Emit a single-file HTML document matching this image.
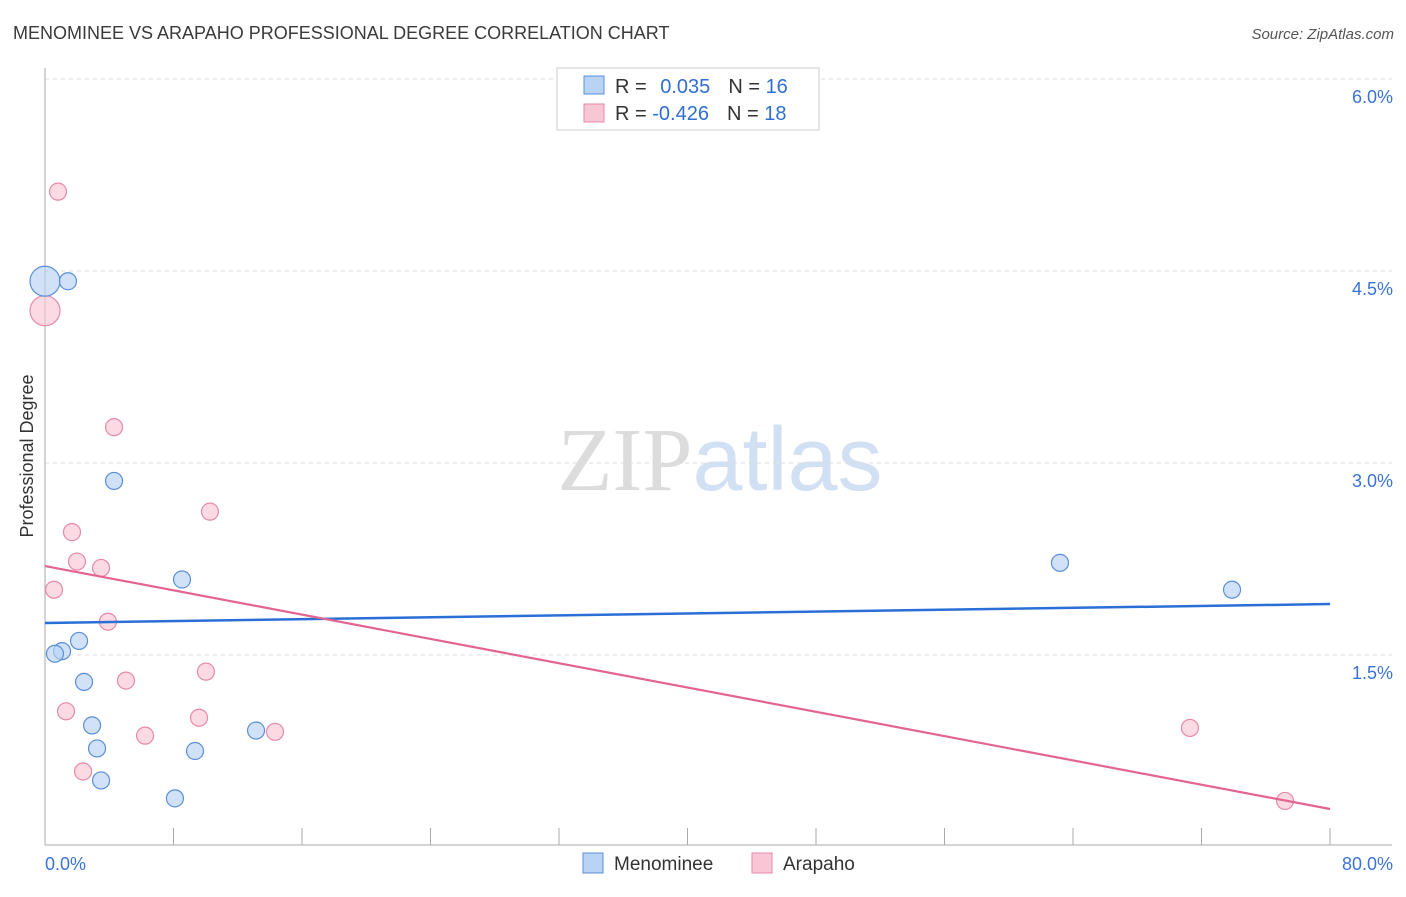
<!DOCTYPE html>
<html><head><meta charset="utf-8"><style>
body{margin:0;background:#fff;font-family:"Liberation Sans",sans-serif;}
svg text{font-family:"Liberation Sans",sans-serif;}
</style></head><body>
<svg id="chart" width="1406" height="892" xmlns="http://www.w3.org/2000/svg">
<text x="13" y="39" font-size="18" fill="#3a3a3a">MENOMINEE VS ARAPAHO PROFESSIONAL DEGREE CORRELATION CHART</text>
<text x="1394" y="39" font-size="15" fill="#555" text-anchor="end" font-style="italic">Source: ZipAtlas.com</text>
<text x="720" y="490" font-size="90" text-anchor="middle"><tspan fill="#dcdcdc" font-family="Liberation Serif">ZIP</tspan><tspan fill="#d2e0f4">atlas</tspan></text>
<g id="grid"></g>
<g id="axes"></g>
<g id="marks"></g>
<text transform="translate(33,456) rotate(-90)" font-size="18" fill="#333" text-anchor="middle">Professional Degree</text>
<g>
<rect x="557" y="68" width="262" height="62" fill="#fff" stroke="#ccc"/>
<rect x="584" y="76" width="20" height="18" fill="#b9d3f5" stroke="#5a8fd8"/>
<rect x="584" y="104" width="20" height="18" fill="#f9c6d6" stroke="#e58aa8"/>
<text x="615" y="93" font-size="20" fill="#333">R = <tspan fill="#2f6fd0" dx="8">0.035</tspan><tspan fill="#333" dx="18">N = </tspan><tspan fill="#2f6fd0">16</tspan></text>
<text x="615" y="120" font-size="20" fill="#333">R = <tspan fill="#2f6fd0">-0.426</tspan><tspan fill="#333" dx="18">N = </tspan><tspan fill="#2f6fd0">18</tspan></text>
</g>
<g>
<rect x="583" y="853" width="20" height="20" fill="#b9d3f5" stroke="#5a8fd8"/>
<text x="614" y="870" font-size="19" fill="#333">Menominee</text>
<rect x="752" y="853" width="20" height="20" fill="#f9c6d6" stroke="#e58aa8"/>
<text x="783" y="870" font-size="19" fill="#333">Arapaho</text>
</g>
</svg>
<script>
const menX=[0,1.43,4.30,8.53,2.12,1.06,0.62,2.43,2.93,3.24,9.34,13.14,3.49,8.09,63.19,73.90];
const menY=[4.42,4.42,2.86,2.09,1.61,1.53,1.51,1.29,0.95,0.77,0.75,0.91,0.52,0.38,2.22,2.01];
const menR=[15,8.5,8.5,8.5,8.5,8.5,8.5,8.5,8.5,8.5,8.5,8.5,8.5,8.5,8.5,8.5];
const araX=[0.81,0,4.30,10.27,1.68,1.99,3.49,0.56,3.92,10.02,5.04,1.31,9.59,6.23,14.32,2.37,71.28,77.20];
const araY=[5.12,4.19,3.28,2.62,2.46,2.23,2.18,2.01,1.76,1.37,1.30,1.06,1.01,0.87,0.90,0.59,0.93,0.36];
const araR=[8.5,15,8.5,8.5,8.5,8.5,8.5,8.5,8.5,8.5,8.5,8.5,8.5,8.5,8.5,8.5,8.5,8.5];
const menTrend=[1.75,1.898];
const araTrend=[2.195,0.297];
const yTicks=[1.5,3.0,4.5,6.0];
const xTickLabels=["0.0%","80.0%"];
const NS="http://www.w3.org/2000/svg";
const sx=v=>45+v*(1285/80);
const sy=v=>847-v*128;
function mk(tag,attrs,parent){const e=document.createElementNS(NS,tag);for(const k in attrs)e.setAttribute(k,attrs[k]);parent.appendChild(e);return e;}
const grid=document.getElementById('grid'),axes=document.getElementById('axes'),marks=document.getElementById('marks');
yTicks.forEach(t=>{
 const l=mk('line',{x1:45,x2:1392,y1:sy(t),y2:sy(t),stroke:'#ddd','stroke-dasharray':'4,4'},grid);
 
 
 const tx=mk('text',{x:1393,y:sy(t)+24,'font-size':18,fill:'#3b74d6','text-anchor':'end'},axes);
 tx.textContent=t.toFixed(1)+'%';
 
 
});
mk('line',{x1:45,x2:45,y1:68,y2:845,stroke:'#aaa'},axes);
mk('line',{x1:45,x2:1392,y1:845,y2:845,stroke:'#aaa'},axes);
for(let i=0;i<=10;i++){const x=sx(i*8);const t=mk('line',{x1:x,x2:x,y1:828,y2:845,stroke:'#aaa'},axes);}
const xl0=mk('text',{x:45,y:870,'font-size':18,fill:'#3b74d6'},axes);xl0.textContent=xTickLabels[0];


const xl1=mk('text',{x:1393,y:870,'font-size':18,fill:'#3b74d6','text-anchor':'end'},axes);xl1.textContent=xTickLabels[1];


function pts(X,Y,R,fill,stroke,name){X.forEach((x,i)=>{const c=mk('circle',{cx:sx(x),cy:sy(Y[i]),r:R[i],fill:fill,stroke:stroke,'stroke-width':1.2,'fill-opacity':0.65},marks);
 
 });}
pts(araX,araY,araR,'#f9c6d6','#e58aa8','arapaho-point');
pts(menX,menY,menR,'#b9d3f5','#5a8fd8','menominee-point');
const l1=mk('line',{x1:sx(0),x2:sx(80),y1:sy(menTrend[0]),y2:sy(menTrend[1]),stroke:'#2a6fd6','stroke-width':2.5},marks);


const l2=mk('line',{x1:sx(0),x2:sx(80),y1:sy(araTrend[0]),y2:sy(araTrend[1]),stroke:'#e3658f','stroke-width':2.2},marks);


</script>
</body></html>
